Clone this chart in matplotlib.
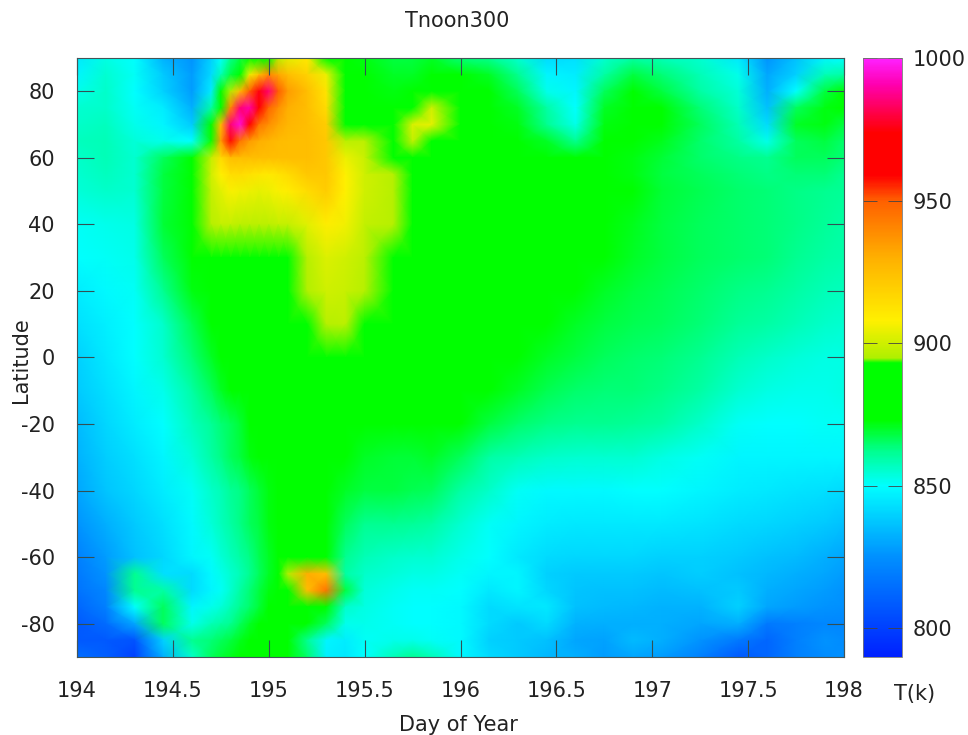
# -*- coding: utf-8 -*-
import numpy as np
import matplotlib
matplotlib.use('Agg')
import matplotlib.pyplot as plt
from matplotlib.colors import LinearSegmentedColormap

plt.rcParams['axes.unicode_minus'] = False

#------------ DATA----------------------------------------
days = [194, 194.15, 194.3, 194.45, 194.6, 194.7, 194.75, 194.8, 194.85, 194.9, 194.95, 195, 195.05,
        195.1, 195.2, 195.3, 195.4, 195.5, 195.65, 195.75, 195.85, 196, 196.15, 196.3, 196.45, 196.6,
        196.75, 196.9, 197.05, 197.25, 197.45, 197.6, 197.75, 197.9, 198]
lats = [90, 85, 80, 75, 70, 65, 60, 55, 50, 40, 30, 20, 10, 0, -10, -20, -30, -40, -50, -60,
        -65, -70, -75, -80, -85, -90]
temps = [
    [845,853,850,833,826,840,850,862,868,873,880,890,896,903,910,885,873,872,868,868,870,864,862,855,842,843,855,860,858,855,845,826,836,848,850],
    [848,855,851,838,828,842,858,868,880,905,925,940,932,925,918,905,874,873,870,870,873,873,870,862,848,846,860,868,864,858,852,830,840,858,860],
    [852,856,850,840,828,846,873,895,925,950,975,985,950,935,925,912,876,874,872,874,880,888,874,866,852,848,866,873,868,860,854,832,850,868,873],
    [855,856,851,846,832,860,892,940,985,990,965,948,938,930,925,915,878,875,873,888,900,876,874,870,860,850,870,875,873,864,856,836,866,872,873],
    [856,857,852,848,838,880,925,985,995,960,945,938,932,928,925,920,880,875,873,902,904,873,875,872,862,852,872,875,873,866,858,842,870,872,868],
    [857,858,854,852,850,893,935,958,945,935,930,928,926,925,925,922,897,897,873,898,882,874,875,874,870,862,873,874,871,865,860,852,866,868,865],
    [856,858,855,866,875,898,915,925,925,925,925,925,925,925,925,922,905,899,880,880,875,875,875,875,874,873,873,872,869,865,863,862,866,866,864],
    [855,857,855,868,875,900,908,914,915,913,911,910,912,915,922,922,908,900,896,875,875,875,875,875,875,874,874,872,868,866,864,863,864,864,862],
    [854,856,855,868,875,898,903,907,906,905,904,905,907,909,915,920,908,900,896,875,875,875,875,875,875,875,874,873,869,867,865,864,863,862,861],
    [851,852,853,869,875,896,898,898,897,897,897,897,898,898,903,909,906,898,896,875,875,875,875,875,875,875,874,871,868,866,865,864,863,861,860],
    [850,851,852,866,873,875,878,884,890,888,890,888,888,888,896,902,900,897,890,875,875,875,875,875,875,875,873,870,868,866,865,864,862,860,859],
    [846,849,851,862,872,875,876,877,878,878,877,877,878,880,895,900,899,896,875,875,875,875,875,875,875,873,870,868,867,865,863,862,860,858,857],
    [843,847,850,856,867,873,875,876,876,876,876,876,876,877,880,896,897,885,875,875,875,875,875,875,873,870,868,867,866,864,861,860,858,856,855],
    [840,845,850,855,864,870,873,875,876,876,876,876,876,876,876,876,878,876,875,875,875,875,875,873,870,868,866,865,864,862,858,856,854,853,853],
    [838,843,848,852,860,866,870,873,875,876,876,876,876,876,876,876,876,876,876,875,875,875,873,870,867,865,864,864,863,860,855,853,852,852,853],
    [835,841,846,850,857,861,864,866,869,873,875,876,876,876,876,876,876,876,876,875,875,873,868,865,863,862,862,861,860,856,851,850,850,851,851],
    [833,839,843,848,854,860,863,866,868,872,874,875,875,876,876,876,875,870,869,869,870,866,860,858,856,855,855,855,853,851,848,848,848,848,848],
    [830,837,841,846,851,856,858,861,863,866,869,872,875,876,876,875,870,868,868,867,866,860,856,851,849,849,849,850,850,848,846,845,844,843,842],
    [826,832,838,843,849,854,857,860,863,866,868,872,874,875,876,875,866,862,862,861,860,855,851,848,846,845,845,845,845,844,842,841,840,838,836],
    [820,828,836,841,848,851,854,857,860,863,867,870,874,876,890,878,862,858,856,855,855,852,850,845,842,841,841,841,840,840,838,836,835,832,830],
    [818,826,862,843,842,849,852,855,858,862,866,870,875,895,930,925,860,856,854,853,853,851,848,848,840,838,838,838,837,839,836,834,832,830,828],
    [816,822,862,860,842,848,851,855,860,864,868,872,875,878,925,945,868,854,852,851,851,850,845,848,841,837,836,836,835,836,838,832,830,828,826],
    [812,820,850,866,848,852,854,858,862,865,869,873,876,876,876,880,856,853,851,850,850,849,842,844,845,836,835,834,833,833,840,830,828,826,825],
    [808,814,830,866,852,858,860,862,866,870,873,875,876,876,874,866,852,852,851,850,850,849,842,838,842,833,832,832,832,830,832,818,820,822,822],
    [808,808,806,840,862,864,866,868,871,873,880,878,875,875,862,848,846,851,852,852,851,849,840,838,836,830,829,835,832,826,818,812,820,826,824],
    [815,810,800,832,856,866,869,871,873,875,875,876,876,875,865,847,845,850,858,862,858,849,842,838,834,832,828,830,828,820,808,812,820,824,825],
]

x_ticks = [194, 194.5, 195, 195.5, 196, 196.5, 197, 197.5, 198]
x_labels = ['194', '194.5', '195', '195.5', '196', '196.5', '197', '197.5', '198']
y_ticks = [-80, -60, -40, -20, 0, 20, 40, 60, 80]
cb_ticks = [800, 850, 900, 950, 1000]

#------------ COLOUR SCALE-------------------
vmin = 790
vmax = 1000
cb_levels = [790, 800, 825, 850, 862, 873, 893, 895, 908, 930, 950, 959, 974, 991, 1000]
cb_colors = ['#0020ff', '#0040ff', '#0090ff', '#00ffff', '#00ff90', '#00ff00', '#00ff00', '#b0f000',
             '#fff000', '#ffb000', '#ff6000', '#ff0000', '#ff0000', '#ff00b0', '#ff20ff']
cmap = LinearSegmentedColormap.from_list(
    'tnoon', [((v - vmin) / (vmax - vmin), c) for v, c in zip(cb_levels, cb_colors)], N=512)

#------------ PLOT-------------------
W, H = 968, 735
fig = plt.figure(figsize=(W / 100, H / 100), dpi=100)
ax = fig.add_axes([77 / W, (H - 657) / H, 767 / W, 599 / H])
mesh = ax.pcolormesh(days, lats, np.array(temps), cmap=cmap, vmin=vmin, vmax=vmax,
                     shading='gouraud', rasterized=True)
ax.set_xlim(194, 198)
ax.set_ylim(-90, 90)
ax.set_xticks(x_ticks)
ax.set_xticklabels(x_labels)
ax.set_yticks(y_ticks)
ax.tick_params(direction='in', length=12, width=0.8, color='#335055', top=True, right=True,
               labelsize=15, labelcolor='#222222')
ax.tick_params(axis='x', pad=17)
ax.tick_params(axis='y', pad=16)
for s in ax.spines.values():
    s.set_linewidth(0.8)
    s.set_color('#445558')

cax = fig.add_axes([863 / W, (H - 657) / H, 39 / W, 599 / H])
cb = fig.colorbar(mesh, cax=cax)
cb.set_ticks(cb_ticks)
cax.tick_params(direction='in', length=10, width=0.6, color='#444444', left=True, right=True,
                labelsize=15, labelcolor='#222222', pad=8)
cb.outline.set_linewidth(0.6)
cb.outline.set_edgecolor('#777777')

fig.text(457 / W, 1 - 21 / H, 'Tnoon300', ha='center', va='center', fontsize=15, color='#222222')
fig.text(458 / W, 1 - 725 / H, 'Day of Year', ha='center', va='center', fontsize=15, color='#222222')
fig.text(21 / W, 1 - 360 / H, 'Latitude', ha='center', va='center', rotation=90, fontsize=15, color='#222222')
fig.text(915 / W, 1 - 694 / H, 'T(k)', ha='center', va='center', fontsize=15, color='#222222')

fig.savefig('out.png', dpi=100)
